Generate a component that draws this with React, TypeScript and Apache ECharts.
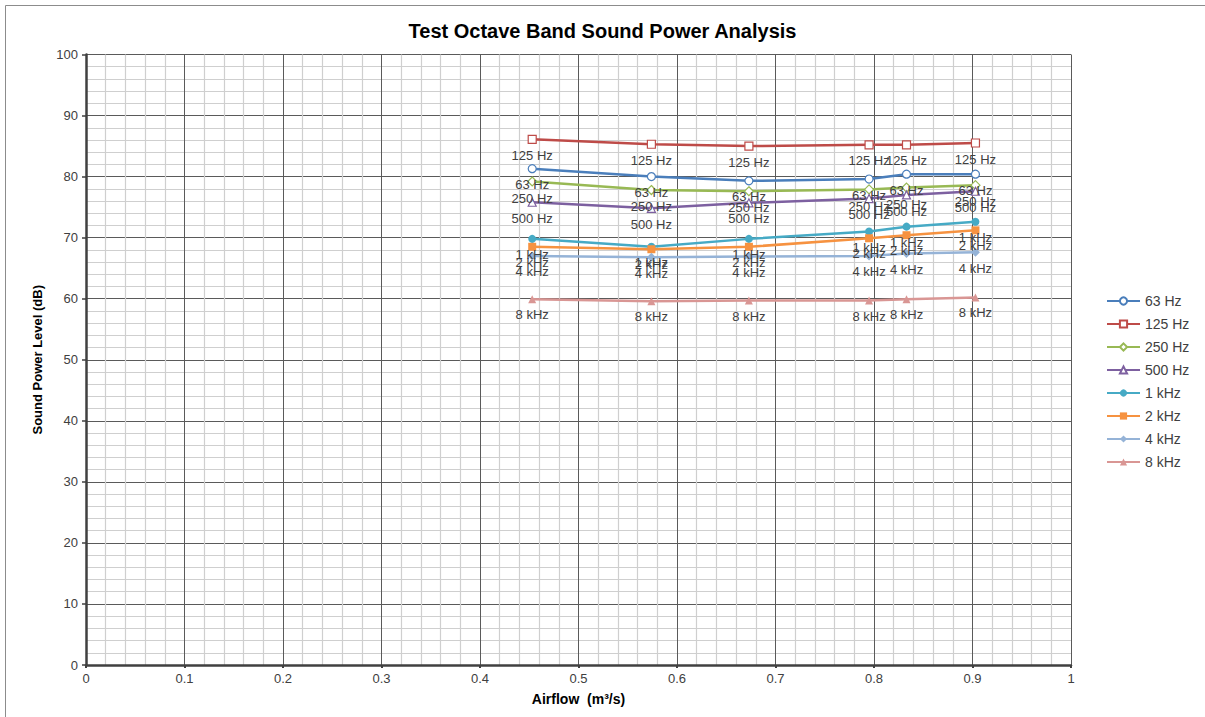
import React, { useEffect, useRef } from "react";
import * as echarts from "echarts";

const airflow = [0.453, 0.574, 0.673, 0.795, 0.833, 0.903];
const seriesNames = ["63 Hz", "125 Hz", "250 Hz", "500 Hz", "1 kHz", "2 kHz", "4 kHz", "8 kHz"];
const hz63 = [81.3, 80.0, 79.3, 79.6, 80.4, 80.4];
const hz125 = [86.1, 85.3, 85.0, 85.2, 85.2, 85.5];
const hz250 = [79.2, 77.8, 77.6, 77.9, 78.2, 78.6];
const hz500 = [75.8, 74.8, 75.7, 76.4, 77.0, 77.6];
const khz1 = [69.8, 68.5, 69.8, 71.0, 71.8, 72.6];
const khz2 = [68.5, 68.1, 68.5, 69.9, 70.4, 71.2];
const khz4 = [67.0, 66.8, 66.9, 67.0, 67.4, 67.6];
const khz8 = [59.9, 59.6, 59.7, 59.7, 59.9, 60.2];
const allValues = [hz63, hz125, hz250, hz500, khz1, khz2, khz4, khz8];

const colors = ["#4A7EBB", "#BE4B48", "#98B954", "#7D60A0", "#46AAC5", "#F69240", "#95B3D7", "#D99694"];
const symbols = ["circle", "rect", "diamond", "triangle", "circle", "rect", "diamond", "triangle"];
const hollow = [true, true, true, true, false, false, false, false];

const FONT = "'Liberation Sans', Arial, sans-serif";

export default function App() {
  const ref = useRef<HTMLDivElement>(null);
  useEffect(() => {
    if (!ref.current) return;
    const chart = echarts.init(ref.current, null, { renderer: "svg" });
    const series = seriesNames.map((name, i) => ({
      name,
      type: "line",
      data: airflow.map((x, j) => [x, allValues[i][j]]),
      symbol: symbols[i],
      symbolSize: symbols[i] === "diamond" ? 9 : 8,
      lineStyle: { color: colors[i], width: 2.5 },
      itemStyle: hollow[i]
        ? { color: "#ffffff", borderColor: colors[i], borderWidth: 1.2 }
        : { color: colors[i], borderColor: colors[i], borderWidth: 0 },
      label: {
        show: true,
        position: "bottom",
        distance: 5,
        formatter: "{a}",
        color: "#404040",
        fontSize: 13,
        fontFamily: FONT,
      },
      emphasis: { disabled: true },
      z: 3,
    }));
    chart.setOption({
      animation: false,
      backgroundColor: "#ffffff",
      title: {
        text: "Test Octave Band Sound Power Analysis",
        left: "center",
        top: 16,
        textStyle: { fontSize: 20, fontWeight: "bold", color: "#000000", fontFamily: FONT },
      },
      graphic: [
        {
          type: "rect",
          shape: { x: 5.5, y: 5.5, width: 1400, height: 900 },
          style: { fill: "none", stroke: "#8c8c8c", lineWidth: 1 },
          silent: true,
          z: -10,
        },
      ],
      legend: {
        orient: "vertical",
        left: 1101,
        top: 289,
        itemWidth: 33,
        itemHeight: 9,
        itemGap: 9,
        textStyle: { fontSize: 14, color: "#404040", fontFamily: FONT },
        data: seriesNames,
      },
      grid: {
        left: 86,
        right: 134,
        top: 54.5,
        bottom: 52,
        containLabel: false,
        outerBoundsMode: "none",
      },
      xAxis: {
        type: "value",
        min: 0,
        max: 1,
        interval: 0.1,
        name: "Airflow  (m³/s)",
        nameLocation: "middle",
        nameGap: 27,
        nameTextStyle: { fontSize: 14, fontWeight: "bold", color: "#000000", fontFamily: FONT },
        axisLine: { show: true, onZero: false, lineStyle: { color: "#404040", width: 2.5 } },
        axisTick: { show: true, length: 3, lineStyle: { color: "#404040", width: 2 } },
        axisLabel: { fontSize: 13, color: "#404040", fontFamily: FONT, margin: 7 },
        splitLine: { show: true, lineStyle: { color: "#5a5a5a", width: 1 } },
        minorTick: { show: false, splitNumber: 5 },
        minorSplitLine: { show: true, lineStyle: { color: "#cfcfcf", width: 1.2 } },
      },
      yAxis: {
        type: "value",
        min: 0,
        max: 100,
        interval: 10,
        name: "Sound Power Level (dB)",
        nameLocation: "middle",
        nameGap: 42,
        nameRotate: 90,
        nameTextStyle: { fontSize: 13, fontWeight: "bold", color: "#000000", fontFamily: FONT },
        axisLine: { show: true, lineStyle: { color: "#404040", width: 2.5 } },
        axisTick: { show: true, length: 4, lineStyle: { color: "#404040", width: 1.5 } },
        axisLabel: { fontSize: 13, color: "#404040", fontFamily: FONT, margin: 8 },
        splitLine: { show: true, lineStyle: { color: "#5a5a5a", width: 1 } },
        minorTick: { show: false, splitNumber: 5 },
        minorSplitLine: { show: true, lineStyle: { color: "#cfcfcf", width: 1.2 } },
      },
      series,
    });
    return () => chart.dispose();
  }, []);
  return (
    <div
      ref={ref}
      style={{ position: "fixed", left: 0, top: 0, width: 1205, height: 717, background: "#fff" }}
    />
  );
}
